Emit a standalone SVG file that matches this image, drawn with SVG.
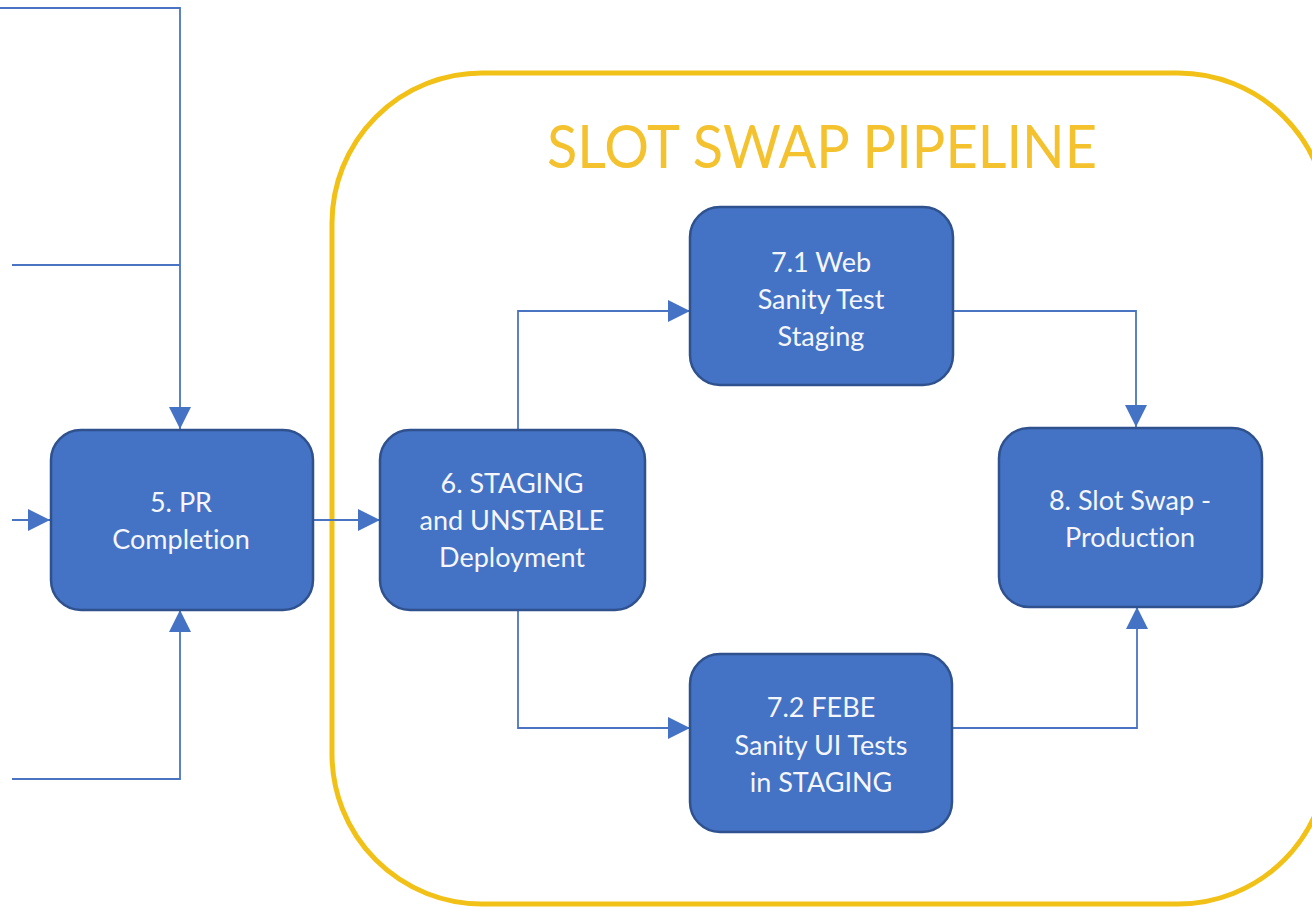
<svg xmlns="http://www.w3.org/2000/svg" width="1312" height="907" viewBox="0 0 1312 907">
  <style>
    .node rect { fill: #4472C4; stroke: #2F528F; stroke-width: 2.5; }
    .node text { fill: #F4F6FB; font-family: Lato, "Open Sans", sans-serif; font-size: 27px; text-anchor: middle; font-variant-ligatures: none; }
    .wire { fill: none; stroke: #4A74C2; stroke-width: 1.8; }
    .wire-end { fill: none; stroke: #4A74C2; stroke-width: 1.8; marker-end: url(#arrow); }
    .frame { fill: none; stroke: #F2C118; stroke-width: 5; }
    .title { fill: #F4C22E; font-family: Lato, "Open Sans", sans-serif; font-size: 60px; text-anchor: middle; }
  </style>
  <defs>
    <marker id="arrow" markerUnits="userSpaceOnUse" markerWidth="22" markerHeight="22" refX="22" refY="11" orient="auto">
      <path d="M0,0 L22,11 L0,22 Z" fill="#4472C4"/>
    </marker>
  </defs>
  <rect width="1312" height="907" fill="#FFFFFF"/>

  <!-- pipeline frame -->
  <g id="slot-swap-pipeline">
    <rect class="frame" x="332" y="73" width="996" height="831" rx="150" ry="150"/>
    <text class="title" x="822" y="168" textLength="550" lengthAdjust="spacingAndGlyphs">SLOT SWAP PIPELINE</text>
  </g>

  <!-- connectors -->
  <g id="connectors">
    <path class="wire-end" d="M0,8 H180 V429"/>
    <path class="wire" d="M12,265 H180"/>
    <path class="wire-end" d="M12,520 H50"/>
    <path class="wire-end" d="M12,779 H180 V610"/>
    <path class="wire-end" d="M313,520 H380"/>
    <path class="wire-end" d="M518,429 V311 H690"/>
    <path class="wire-end" d="M518,610 V728 H690"/>
    <path class="wire-end" d="M953,311 H1136 V427"/>
    <path class="wire-end" d="M952,728 H1137 V607"/>
  </g>

  <g id="node-5" class="node">
    <rect x="51" y="430" width="262" height="180" rx="30"/>
    <text x="181" y="512">5. PR</text>
    <text x="181" y="549">Completion</text>
  </g>

  <g id="node-6" class="node">
    <rect x="380" y="430" width="265" height="180" rx="30"/>
    <text x="512" y="493">6. STAGING</text>
    <text x="512" y="530">and UNSTABLE</text>
    <text x="512" y="567">Deployment</text>
  </g>

  <g id="node-7-1" class="node">
    <rect x="690" y="207" width="263" height="178" rx="30"/>
    <text x="821" y="272">7.1 Web</text>
    <text x="821" y="309">Sanity Test</text>
    <text x="821" y="346">Staging</text>
  </g>

  <g id="node-7-2" class="node">
    <rect x="690" y="654" width="262" height="178" rx="30"/>
    <text x="821" y="717">7.2 FEBE</text>
    <text x="821" y="755">Sanity UI Tests</text>
    <text x="821" y="792">in STAGING</text>
  </g>

  <g id="node-8" class="node">
    <rect x="999" y="428" width="263" height="179" rx="30"/>
    <text x="1130" y="510">8. Slot Swap -</text>
    <text x="1130" y="547">Production</text>
  </g>
</svg>
